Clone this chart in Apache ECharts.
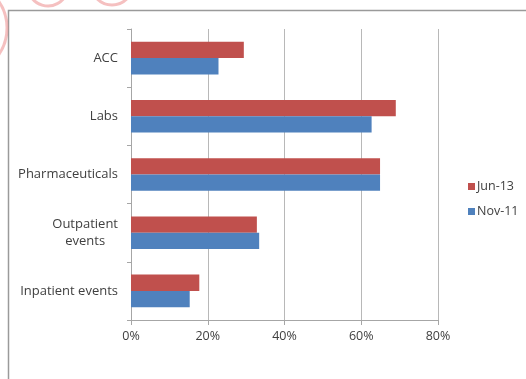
<!DOCTYPE html>
<html>
<head>
<meta charset="utf-8">
<script src="https://cdn.jsdelivr.net/npm/echarts@6/dist/echarts.min.js"></script>
<style>
  html, body { margin: 0; padding: 0; background: #fff; }
  #chart { width: 526px; height: 379px; }
</style>
</head>
<body>
<div id="chart"></div>
<script>
// Cost categories, top to bottom
const categories = ['ACC', 'Labs', 'Pharmaceuticals', 'Outpatient events', 'Inpatient events'];
// Share per category (%)
const jun13 = [29.4, 69.0, 64.9, 32.8, 17.8];
const nov11 = [22.8, 62.7, 64.9, 33.4, 15.3];
const seriesNames = ['Jun-13', 'Nov-11'];
const xTicks = { min: 0, max: 80, step: 20 };

const textColor = '#404040';
const fontFamily = '"Open Sans", "Noto Sans", sans-serif';
const logoStroke = 'rgba(236,130,130,0.5)';

const chart = echarts.init(document.getElementById('chart'), null, { renderer: 'canvas' });

chart.setOption({
  animation: false,
  backgroundColor: '#ffffff',
  grid: { left: 131, right: 88, top: 29, bottom: 59, containLabel: false },
  legend: {
    orient: 'vertical',
    left: 463,
    top: 175,
    itemWidth: 7,
    itemHeight: 7,
    itemGap: 12,
    icon: 'rect',
    data: seriesNames,
    textStyle: { color: textColor, fontSize: 12.5, fontFamily: fontFamily, padding: [0, 0, 0, -3] }
  },
  xAxis: {
    type: 'value',
    min: xTicks.min,
    max: xTicks.max,
    interval: xTicks.step,
    axisLine: { show: true, lineStyle: { color: '#a6a6a6', width: 1 } },
    axisTick: { show: true, length: 5, lineStyle: { color: '#a6a6a6' } },
    axisLabel: { color: textColor, fontSize: 12.5, fontFamily: fontFamily, margin: 10, formatter: '{value}%' },
    splitLine: { show: true, lineStyle: { color: '#b8b8b8', width: 1 } }
  },
  yAxis: {
    type: 'category',
    inverse: true,
    data: categories,
    axisLine: { show: true, lineStyle: { color: '#a6a6a6', width: 1 } },
    axisTick: { show: true, length: 4, lineStyle: { color: '#a6a6a6' } },
    axisLabel: {
      color: textColor,
      fontSize: 13,
      fontFamily: fontFamily,
      margin: 13,
      lineHeight: 17,
      formatter: function (v) {
        if (v === 'Outpatient events') return '{c|Outpatient}\n{c|events}';
        return v;
      },
      rich: { c: { align: 'center', color: textColor, fontSize: 13, fontFamily: fontFamily, lineHeight: 17 } }
    },
    splitLine: { show: false }
  },
  series: [
    {
      name: seriesNames[0], type: 'bar', data: jun13,
      itemStyle: { color: '#c0504d' },
      barGap: '0%', barCategoryGap: '44%'
    },
    {
      name: seriesNames[1], type: 'bar', data: nov11,
      itemStyle: { color: '#4f81bd' },
      barGap: '0%', barCategoryGap: '44%'
    }
  ],
  graphic: [
    // chart frame
    {
      type: 'rect', silent: true, z: 100,
      shape: { x: 8.5, y: 10.5, width: 620, height: 420 },
      style: { fill: 'none', stroke: '#9a9a9a', lineWidth: 1.5 }
    },
    // faint logo arcs in the corner
    {
      type: 'arc', silent: true, z: 101,
      shape: { cx: 112, cy: -16, r: 21, startAngle: 0, endAngle: Math.PI },
      style: { fill: 'none', stroke: logoStroke, lineWidth: 3 }
    },
    {
      type: 'arc', silent: true, z: 101,
      shape: { cx: 48, cy: -14, r: 20, startAngle: 0.3, endAngle: Math.PI - 0.3 },
      style: { fill: 'none', stroke: logoStroke, lineWidth: 3 }
    },
    {
      type: 'arc', silent: true, z: 101,
      shape: { cx: -40, cy: 28, r: 47, startAngle: -0.8, endAngle: 0.8 },
      style: { fill: 'none', stroke: logoStroke, lineWidth: 3 }
    }
  ]
});
</script>
</body>
</html>
